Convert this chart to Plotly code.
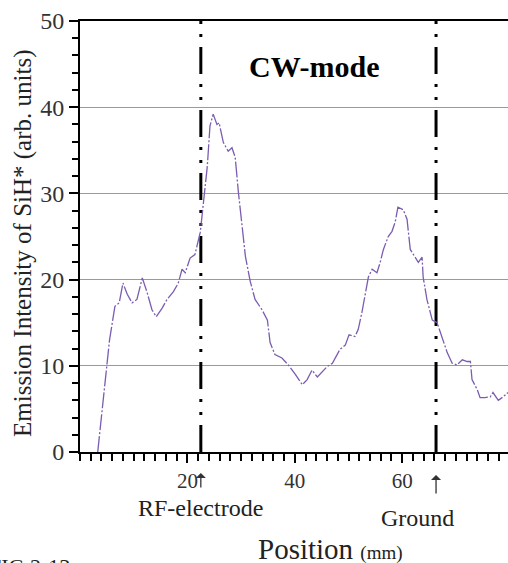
import plotly.graph_objects as go

# Emission intensity profile (CW-mode)
position_mm = [3.3, 5.0, 5.5, 6.5, 7.3, 8.0, 8.8, 9.7, 10.6, 11.6, 12.5, 13.4, 14.2, 15.3, 16.2,
               17.4, 18.3, 19.0, 19.6, 20.5, 21.4, 22.4, 23.7, 24.2, 24.8, 25.5, 25.9, 26.7, 27.6,
               28.3, 28.9, 29.5, 30.2, 30.8, 31.7, 32.6, 33.9, 34.9, 35.4, 36.3, 37.6, 38.8, 40.1,
               41.4, 42.3, 43.2, 44.2, 45.1, 46.0, 47.0, 48.4, 49.4, 50.1, 51.2, 51.8, 52.5, 53.1,
               53.7, 54.4, 55.3, 55.9, 56.5, 57.4, 58.1, 58.7, 59.2, 60.2, 60.9, 61.5, 62.4, 63.0,
               63.7, 63.9, 64.6, 65.6, 66.5, 67.4, 68.4, 69.3, 70.2, 71.2, 72.1, 72.7, 73.0, 74.0,
               74.5, 75.4, 76.4, 76.9, 77.9, 78.8, 79.7]
intensity = [0.0, 10.3, 13.0, 16.9, 17.3, 19.6, 18.3, 17.3, 17.7, 20.2, 18.5, 16.5, 15.7, 16.7, 17.7,
             18.6, 19.6, 21.2, 20.8, 22.5, 22.9, 25.5, 33.1, 37.8, 39.2, 38.0, 38.2, 35.9, 34.9,
             35.3, 34.2, 30.1, 26.2, 22.7, 19.8, 17.7, 16.5, 15.3, 12.7, 11.3, 10.9, 10.1, 9.0,
             7.8, 8.4, 9.5, 8.7, 9.3, 9.9, 10.3, 11.9, 12.4, 13.6, 13.4, 14.2, 16.2, 18.5,
             20.3, 21.2, 20.8, 22.0, 23.5, 25.0, 25.6, 26.7, 28.4, 28.1, 27.0, 23.5, 22.6, 22.0,
             22.6, 20.3, 17.7, 15.3, 15.0, 13.4, 11.5, 10.3, 10.1, 10.7, 10.5, 10.5, 8.4, 7.2,
             6.3, 6.3, 6.4, 6.9, 6.0, 6.4, 6.9]

# Electrode markers
electrode_positions = [22.5, 66.3]
electrode_labels = ["RF-electrode", "Ground"]

x_ticks = [20, 40, 60]
y_ticks = [0, 10, 20, 30, 40, 50]

SERIF = "Liberation Serif, Times New Roman, serif"

fig = go.Figure()

for xp in electrode_positions:
    fig.add_trace(go.Scatter(
        x=[xp, xp], y=[0, 50], mode="lines",
        line=dict(color="black", width=3, dash="27px,10px,3px,10px,3px,10px"),
        showlegend=False, hoverinfo="skip"))

fig.add_trace(go.Scatter(
    x=position_mm, y=intensity, mode="lines",
    line=dict(color="#7a5cb0", width=1.3, dash="16px,2px,2px,2px"),
    showlegend=False))

# pixel -> paper helpers (plot area: x 80..508, y 21..452)
def px_x(px):
    return (px - 80) / 428.0

def px_y(py):
    return (452 - py) / 431.0

def label(text, cx, cy, size, **kw):
    d = dict(text=text, x=px_x(cx), y=px_y(cy), xref="paper", yref="paper",
             xanchor="center", yanchor="middle", showarrow=False,
             font=dict(family=SERIF, size=size, color="#222"))
    d.update(kw)
    return d

annotations = [
    label("<b>CW-mode</b>", 314, 67, 30, font=dict(family=SERIF, size=30, color="black")),
    label(electrode_labels[0], 200, 508, 24),
    label(electrode_labels[1], 417, 518, 24),
    label("Position <span style='font-size:19px'>(mm)</span>", 330, 549, 29),
    label("Emission Intensity of SiH* (arb. units)", 23, 244, 25, textangle=-90),
    dict(text="FIG.2-13", x=px_x(-13), y=px_y(552), xref="paper", yref="paper",
         xanchor="left", yanchor="top", showarrow=False,
         font=dict(family=SERIF, size=22, color="#222")),
]
for xp, head_py, tail in zip(electrode_positions, [473, 475], [16, 20]):
    annotations.append(dict(
        text="", x=xp, y=px_y(head_py), xref="x", yref="paper",
        showarrow=True, ax=0, ay=tail, arrowhead=1, arrowsize=1.3,
        arrowwidth=1.3, arrowcolor="#333"))

fig.update_layout(
    width=508, height=563,
    margin=dict(l=80, r=0, t=21, b=111),
    plot_bgcolor="white", paper_bgcolor="white",
    annotations=annotations,
    xaxis=dict(
        range=[0, 79.7], tickvals=x_ticks, ticktext=[str(v) for v in x_ticks],
        ticks="outside", ticklen=9, tickwidth=1.5, tickcolor="black",
        showline=True, linewidth=2, linecolor="black", mirror=True,
        showgrid=False, zeroline=False,
        tickfont=dict(family=SERIF, size=21, color="#333"),
        minor=dict(dtick=2, tick0=0, ticks="outside", ticklen=7, tickwidth=1.5,
                   tickcolor="black", showgrid=False),
    ),
    yaxis=dict(
        range=[0, 50], tickvals=y_ticks, ticktext=[str(v) for v in y_ticks],
        ticks="outside", ticklen=9, tickwidth=1.5, tickcolor="black",
        showline=True, linewidth=2, linecolor="black",
        showgrid=True, gridcolor="#9a9a9a", gridwidth=1.2, zeroline=False,
        tickfont=dict(family=SERIF, size=24, color="#333"),
        minor=dict(dtick=2, tick0=0, ticks="outside", ticklen=6, tickwidth=1.5,
                   tickcolor="black", showgrid=False),
    ),
)

fig.write_html("out.html")
